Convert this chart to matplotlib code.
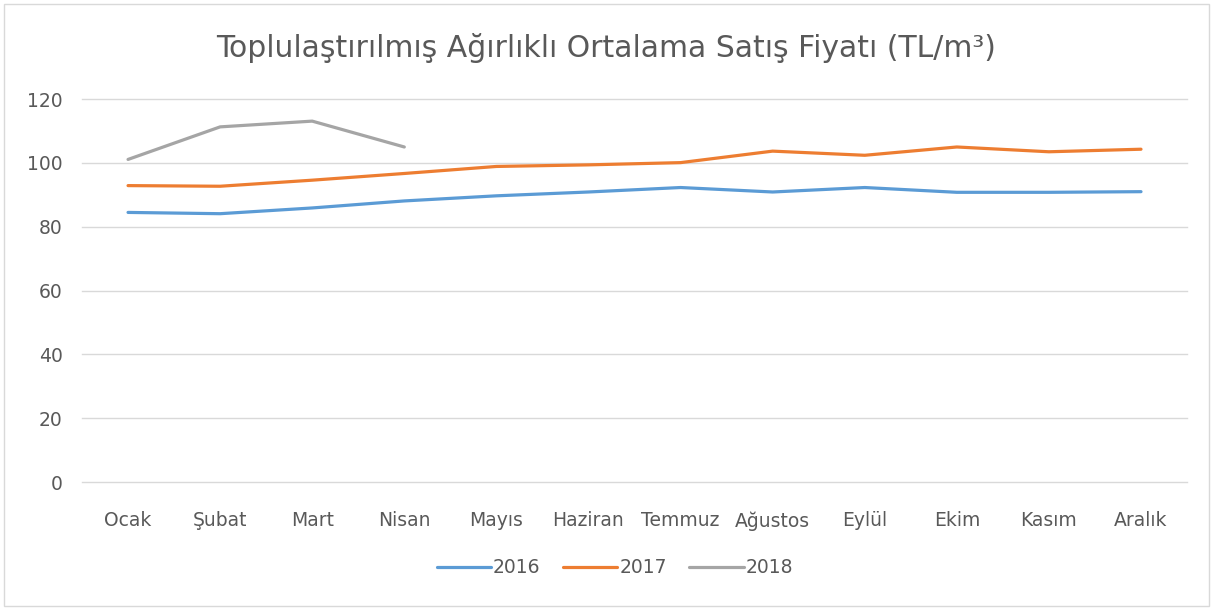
import matplotlib.pyplot as plt
from matplotlib.patches import Rectangle

months = ["Ocak", "Şubat", "Mart", "Nisan", "Mayıs", "Haziran", "Temmuz",
          "Ağustos", "Eylül", "Ekim", "Kasım", "Aralık"]
y2016 = [84.5, 84.1, 85.9, 88.1, 89.7, 90.9, 92.3, 90.9, 92.3, 90.8, 90.8, 91.0]
y2017 = [92.9, 92.7, 94.6, 96.7, 98.9, 99.4, 100.1, 103.7, 102.4, 105.0, 103.5, 104.3]
y2018 = [101.1, 111.3, 113.1, 105.0]
years = ["2016", "2017", "2018"]
colors = ["#5B9BD5", "#ED7D31", "#A5A5A5"]

plt.rcParams['font.family'] = ['DejaVu Sans']

my_dpi = 100
fig = plt.figure(figsize=(12.13, 6.08), dpi=my_dpi)
ax = fig.add_axes([0.0676, 0.207, 0.911, 0.63])

x = list(range(len(months)))
ax.plot(x, y2016, color=colors[0], lw=2.3, label=years[0], solid_capstyle="round")
ax.plot(x, y2017, color=colors[1], lw=2.3, label=years[1], solid_capstyle="round")
ax.plot(x[:len(y2018)], y2018, color=colors[2], lw=2.3, label=years[2], solid_capstyle="round")

ax.set_xlim(-0.5, 11.5)
ax.set_ylim(0, 120)
ax.set_yticks(range(0, 121, 20))
ax.set_xticks(x)
ax.set_xticklabels(months)
ax.grid(axis="y", color="#D9D9D9", lw=1)
for gl in ax.get_ygridlines():
    gl.set_clip_on(False)
ax.set_axisbelow(True)
for s in ax.spines.values():
    s.set_visible(False)
ax.tick_params(length=0, labelsize=13.5, labelcolor="#595959")
ax.tick_params(axis="y", pad=14)
ax.tick_params(axis="x", pad=21)

fig.suptitle("Toplulaştırılmış Ağırlıklı Ortalama Satış Fiyatı (TL/m³)",
             y=0.945, fontsize=21.5, color="#595959")

fig.legend(loc="center", bbox_to_anchor=(0.507, 0.066), ncol=3, frameon=False,
           fontsize=13.5, labelcolor="#595959", handlelength=2.9,
           handletextpad=0.1, columnspacing=1.2)

fig.patches.append(Rectangle((0.003, 0.004), 0.994, 0.99, transform=fig.transFigure,
                             fill=False, edgecolor="#D9D9D9", lw=1))

plt.savefig("out.png", dpi=my_dpi)
